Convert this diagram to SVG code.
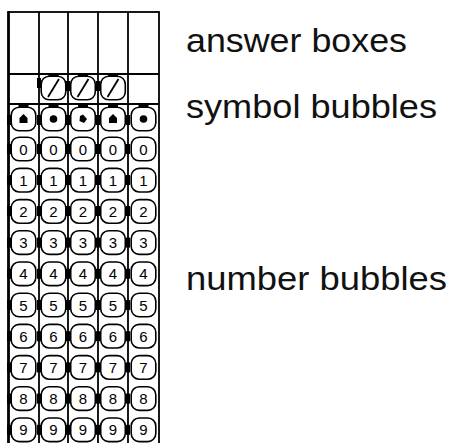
<svg xmlns="http://www.w3.org/2000/svg" width="450" height="443" viewBox="0 0 450 443">
<style>
.ln{stroke:#000;stroke-width:1.8;fill:none}
.bb{fill:#fff;stroke:#000;stroke-width:1.6}
.dg{font-family:"Liberation Sans",Arial,sans-serif;font-size:15px;fill:#000;text-anchor:middle}
.lb{font-family:"Liberation Sans",Arial,sans-serif;font-size:33px;fill:#111}
.blob{fill:#000}
</style>
<defs>
<rect id="bub" x="-12.3" y="-11.8" width="24.6" height="23.6" rx="8" ry="8" class="bb"/>
<rect id="blob" x="-2" y="-5" width="4" height="10" class="blob"/>
<rect id="cap" x="-5" y="-1.8" width="10" height="3" class="blob"/>
</defs>
<rect width="450" height="443" fill="#fff"/>
<g id="grid">
<rect x="8" y="12" width="151" height="440" class="ln"/>
<line x1="9" y1="11" x2="9" y2="443" class="ln" stroke-width="3"/>
<line x1="39" y1="12" x2="39" y2="443" class="ln"/>
<line x1="68" y1="12" x2="68" y2="443" class="ln"/>
<line x1="98" y1="12" x2="98" y2="443" class="ln"/>
<line x1="128" y1="12" x2="128" y2="443" class="ln"/>
<line x1="8" y1="74" x2="159" y2="74" class="ln"/>
<line x1="8" y1="104" x2="159" y2="104" class="ln"/>
</g>
<g id="connectors"></g>
<g id="slash-row">
<use href="#cap" x="53.5" y="75"/><use href="#cap" x="83" y="75"/><use href="#cap" x="113" y="75"/>
<use href="#blob" x="39" y="83"/><use href="#blob" x="68" y="86"/><use href="#blob" x="98" y="86"/>
<use href="#bub" x="53.5" y="88"/><use href="#bub" x="83" y="88"/><use href="#bub" x="113" y="88"/>
<line x1="48" y1="97" x2="59" y2="79" class="ln" stroke-width="1.6"/>
<line x1="77.5" y1="97" x2="88.5" y2="79" class="ln" stroke-width="1.6"/>
<line x1="107.5" y1="97" x2="118.5" y2="79" class="ln" stroke-width="1.6"/>
</g>
<g id="symbol-row">
<use href="#cap" x="23.5" y="106"/><use href="#cap" x="53.5" y="106"/><use href="#cap" x="83" y="106"/><use href="#cap" x="113" y="106"/><use href="#cap" x="143.5" y="106"/>
<use href="#blob" x="9" y="120"/><use href="#blob" x="39" y="120"/><use href="#blob" x="68" y="120"/><use href="#blob" x="98" y="120"/><use href="#blob" x="128" y="120"/>
<use href="#bub" x="23.5" y="119"/><use href="#bub" x="53.5" y="119"/><use href="#bub" x="83" y="119"/><use href="#bub" x="113" y="119"/><use href="#bub" x="143.5" y="119"/>
<path d="M23.5 114 L27.5 118 L27.5 123 L19.5 123 L19.5 118 Z" class="blob"/>
<circle cx="53.5" cy="119" r="3.8" class="blob"/>
<path d="M83 114.5 L87 119 L84 123 L79.5 121 L80 116 Z" class="blob"/>
<path d="M113 114 L117 118 L117 123 L109 123 L109 118 Z" class="blob"/>
<circle cx="143.5" cy="119" r="3.8" class="blob"/>
</g>
<g id="number-bubbles">
<g id="row0"><use href="#blob" x="9" y="149"/><use href="#blob" x="39" y="149"/><use href="#blob" x="68" y="149"/><use href="#blob" x="98" y="149"/><use href="#blob" x="128" y="149"/>
<use href="#bub" x="23.5" y="149"/><use href="#bub" x="53.5" y="149"/><use href="#bub" x="83" y="149"/><use href="#bub" x="113" y="149"/><use href="#bub" x="143.5" y="149"/>
<text class="dg" x="23.5" y="154.5">0</text><text class="dg" x="53.5" y="154.5">0</text><text class="dg" x="83" y="154.5">0</text><text class="dg" x="113" y="154.5">0</text><text class="dg" x="143.5" y="154.5">0</text></g>
<g id="row1"><use href="#blob" x="9" y="180"/><use href="#blob" x="39" y="180"/><use href="#blob" x="68" y="180"/><use href="#blob" x="98" y="180"/><use href="#blob" x="128" y="180"/>
<use href="#bub" x="23.5" y="180.2"/><use href="#bub" x="53.5" y="180.2"/><use href="#bub" x="83" y="180.2"/><use href="#bub" x="113" y="180.2"/><use href="#bub" x="143.5" y="180.2"/>
<text class="dg" x="23.5" y="185.7">1</text><text class="dg" x="53.5" y="185.7">1</text><text class="dg" x="83" y="185.7">1</text><text class="dg" x="113" y="185.7">1</text><text class="dg" x="143.5" y="185.7">1</text></g>
<g id="row2"><use href="#blob" x="9" y="211"/><use href="#blob" x="39" y="211"/><use href="#blob" x="68" y="211"/><use href="#blob" x="98" y="211"/><use href="#blob" x="128" y="211"/>
<use href="#bub" x="23.5" y="211.4"/><use href="#bub" x="53.5" y="211.4"/><use href="#bub" x="83" y="211.4"/><use href="#bub" x="113" y="211.4"/><use href="#bub" x="143.5" y="211.4"/>
<text class="dg" x="23.5" y="216.9">2</text><text class="dg" x="53.5" y="216.9">2</text><text class="dg" x="83" y="216.9">2</text><text class="dg" x="113" y="216.9">2</text><text class="dg" x="143.5" y="216.9">2</text></g>
<g id="row3"><use href="#blob" x="9" y="242.6"/><use href="#blob" x="39" y="242.6"/><use href="#blob" x="68" y="242.6"/><use href="#blob" x="98" y="242.6"/><use href="#blob" x="128" y="242.6"/>
<use href="#bub" x="23.5" y="242.6"/><use href="#bub" x="53.5" y="242.6"/><use href="#bub" x="83" y="242.6"/><use href="#bub" x="113" y="242.6"/><use href="#bub" x="143.5" y="242.6"/>
<text class="dg" x="23.5" y="248.1">3</text><text class="dg" x="53.5" y="248.1">3</text><text class="dg" x="83" y="248.1">3</text><text class="dg" x="113" y="248.1">3</text><text class="dg" x="143.5" y="248.1">3</text></g>
<g id="row4"><use href="#blob" x="9" y="273.8"/><use href="#blob" x="39" y="273.8"/><use href="#blob" x="68" y="273.8"/><use href="#blob" x="98" y="273.8"/><use href="#blob" x="128" y="273.8"/>
<use href="#bub" x="23.5" y="273.8"/><use href="#bub" x="53.5" y="273.8"/><use href="#bub" x="83" y="273.8"/><use href="#bub" x="113" y="273.8"/><use href="#bub" x="143.5" y="273.8"/>
<text class="dg" x="23.5" y="279.3">4</text><text class="dg" x="53.5" y="279.3">4</text><text class="dg" x="83" y="279.3">4</text><text class="dg" x="113" y="279.3">4</text><text class="dg" x="143.5" y="279.3">4</text></g>
<g id="row5"><use href="#blob" x="9" y="305"/><use href="#blob" x="39" y="305"/><use href="#blob" x="68" y="305"/><use href="#blob" x="98" y="305"/><use href="#blob" x="128" y="305"/>
<use href="#bub" x="23.5" y="305"/><use href="#bub" x="53.5" y="305"/><use href="#bub" x="83" y="305"/><use href="#bub" x="113" y="305"/><use href="#bub" x="143.5" y="305"/>
<text class="dg" x="23.5" y="310.5">5</text><text class="dg" x="53.5" y="310.5">5</text><text class="dg" x="83" y="310.5">5</text><text class="dg" x="113" y="310.5">5</text><text class="dg" x="143.5" y="310.5">5</text></g>
<g id="row6"><use href="#blob" x="9" y="336.2"/><use href="#blob" x="39" y="336.2"/><use href="#blob" x="68" y="336.2"/><use href="#blob" x="98" y="336.2"/><use href="#blob" x="128" y="336.2"/>
<use href="#bub" x="23.5" y="336.2"/><use href="#bub" x="53.5" y="336.2"/><use href="#bub" x="83" y="336.2"/><use href="#bub" x="113" y="336.2"/><use href="#bub" x="143.5" y="336.2"/>
<text class="dg" x="23.5" y="341.7">6</text><text class="dg" x="53.5" y="341.7">6</text><text class="dg" x="83" y="341.7">6</text><text class="dg" x="113" y="341.7">6</text><text class="dg" x="143.5" y="341.7">6</text></g>
<g id="row7"><use href="#blob" x="9" y="367.4"/><use href="#blob" x="39" y="367.4"/><use href="#blob" x="68" y="367.4"/><use href="#blob" x="98" y="367.4"/><use href="#blob" x="128" y="367.4"/>
<use href="#bub" x="23.5" y="367.4"/><use href="#bub" x="53.5" y="367.4"/><use href="#bub" x="83" y="367.4"/><use href="#bub" x="113" y="367.4"/><use href="#bub" x="143.5" y="367.4"/>
<text class="dg" x="23.5" y="372.9">7</text><text class="dg" x="53.5" y="372.9">7</text><text class="dg" x="83" y="372.9">7</text><text class="dg" x="113" y="372.9">7</text><text class="dg" x="143.5" y="372.9">7</text></g>
<g id="row8"><use href="#blob" x="9" y="398.6"/><use href="#blob" x="39" y="398.6"/><use href="#blob" x="68" y="398.6"/><use href="#blob" x="98" y="398.6"/><use href="#blob" x="128" y="398.6"/>
<use href="#bub" x="23.5" y="398.6"/><use href="#bub" x="53.5" y="398.6"/><use href="#bub" x="83" y="398.6"/><use href="#bub" x="113" y="398.6"/><use href="#bub" x="143.5" y="398.6"/>
<text class="dg" x="23.5" y="404.1">8</text><text class="dg" x="53.5" y="404.1">8</text><text class="dg" x="83" y="404.1">8</text><text class="dg" x="113" y="404.1">8</text><text class="dg" x="143.5" y="404.1">8</text></g>
<g id="row9"><use href="#blob" x="9" y="429.8"/><use href="#blob" x="39" y="429.8"/><use href="#blob" x="68" y="429.8"/><use href="#blob" x="98" y="429.8"/><use href="#blob" x="128" y="429.8"/>
<use href="#bub" x="23.5" y="429.8"/><use href="#bub" x="53.5" y="429.8"/><use href="#bub" x="83" y="429.8"/><use href="#bub" x="113" y="429.8"/><use href="#bub" x="143.5" y="429.8"/>
<text class="dg" x="23.5" y="435.3">9</text><text class="dg" x="53.5" y="435.3">9</text><text class="dg" x="83" y="435.3">9</text><text class="dg" x="113" y="435.3">9</text><text class="dg" x="143.5" y="435.3">9</text></g>
</g>
<g id="labels">
<text id="lbl-answer" class="lb" x="186" y="52" textLength="221" lengthAdjust="spacingAndGlyphs">answer boxes</text>
<text id="lbl-symbol" class="lb" x="186" y="118" textLength="251" lengthAdjust="spacingAndGlyphs">symbol bubbles</text>
<text id="lbl-number" class="lb" x="186" y="290" textLength="261" lengthAdjust="spacingAndGlyphs">number bubbles</text>
</g>
</svg>
